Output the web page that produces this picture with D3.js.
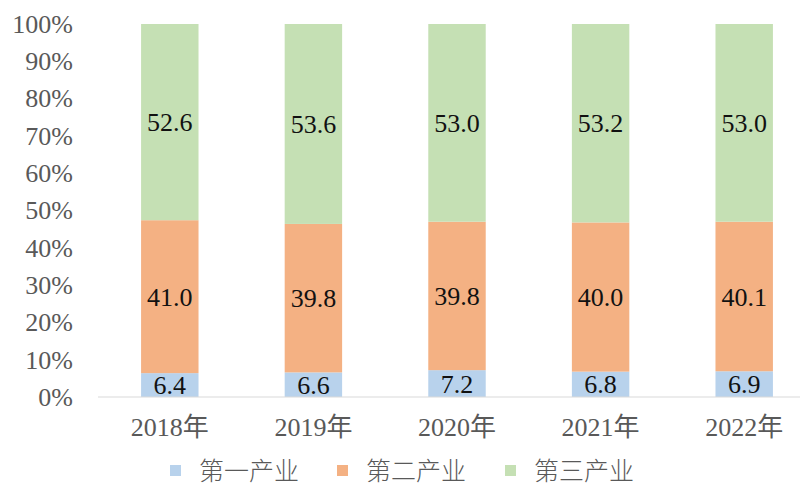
<!DOCTYPE html>
<html><head><meta charset="utf-8">
<script src="https://cdn.jsdelivr.net/npm/d3@7"></script>
<style>body{margin:0;background:#fff}svg{display:block}</style>
</head><body>
<svg id="c" width="808" height="491"></svg>
<script>
const categories = ["2018年","2019年","2020年","2021年","2022年"];
const seriesNames = ["第一产业","第二产业","第三产业"];
const primary = [6.4, 6.6, 7.2, 6.8, 6.9];
const secondary = [41.0, 39.8, 39.8, 40.0, 40.1];
const tertiary = [52.6, 53.6, 53.0, 53.2, 53.0];
const yTicks = [0,10,20,30,40,50,60,70,80,90,100];
const colors = ["#b8d2ec","#f4b183","#c5e0b4"];

const svg = d3.select("#c");
const x = d3.scaleBand().domain(categories).range([98, 816]).paddingInner(0.6).paddingOuter(0.3);
const y = d3.scaleLinear().domain([0,100]).range([397, 24]);

const rows = categories.map((c,i)=>({cat:c, s0:primary[i], s1:secondary[i], s2:tertiary[i]}));
const stack = d3.stack().keys(["s0","s1","s2"])(rows);

const serif = "'Liberation Serif','Times New Roman',serif";
const cjk = "'Liberation Serif','Noto Sans CJK SC',serif";

// y axis labels
const yAxis = d3.axisLeft(y).tickValues(yTicks).tickFormat(d=>d+"%").tickSize(0).tickPadding(0);
const yg = svg.append("g").attr("transform","translate(73,0)").call(yAxis);
yg.select(".domain").remove();
yg.selectAll("text").attr("font-family",serif).attr("font-size",26).attr("fill","#595959");

stack.forEach((layer,k)=>{
  svg.append("g").selectAll("rect").data(layer).join("rect")
    .attr("x",d=>x(d.data.cat)).attr("width",x.bandwidth())
    .attr("y",d=>y(d[1])).attr("height",d=>y(d[0])-y(d[1]))
    .attr("fill",colors[k]);
  svg.append("g").selectAll("text").data(layer).join("text")
    .attr("x",d=>x(d.data.cat)+x.bandwidth()/2)
    .attr("y",d=>(y(d[0])+y(d[1]))/2)
    .attr("dy","0.35em").attr("text-anchor","middle")
    .attr("font-family",serif).attr("font-size",26).attr("fill","#111")
    .text(d=>(d[1]-d[0]).toFixed(1));
});

// x axis
const xAxis = d3.axisBottom(x).tickSize(0).tickPadding(21);
const xg = svg.append("g").attr("transform","translate(0,397)").call(xAxis);
xg.select(".domain").attr("stroke","#d9d9d9").attr("stroke-width",1.2).attr("d","M98,0H800");
xg.selectAll("text").attr("font-family",cjk).attr("font-size",26).attr("fill","#595959");

// legend
const legX = [170, 337, 505];
const lg = svg.append("g");
seriesNames.forEach((n,i)=>{
  lg.append("rect").attr("x",legX[i]).attr("y",465).attr("width",11).attr("height",11).attr("fill",colors[i]);
  lg.append("text").attr("x",legX[i]+29).attr("y",471).attr("dy","0.35em")
    .attr("font-family","'Noto Sans CJK SC',sans-serif").attr("font-size",25).attr("font-weight",300).attr("fill","#595959").text(n);
});
</script>
</body></html>
